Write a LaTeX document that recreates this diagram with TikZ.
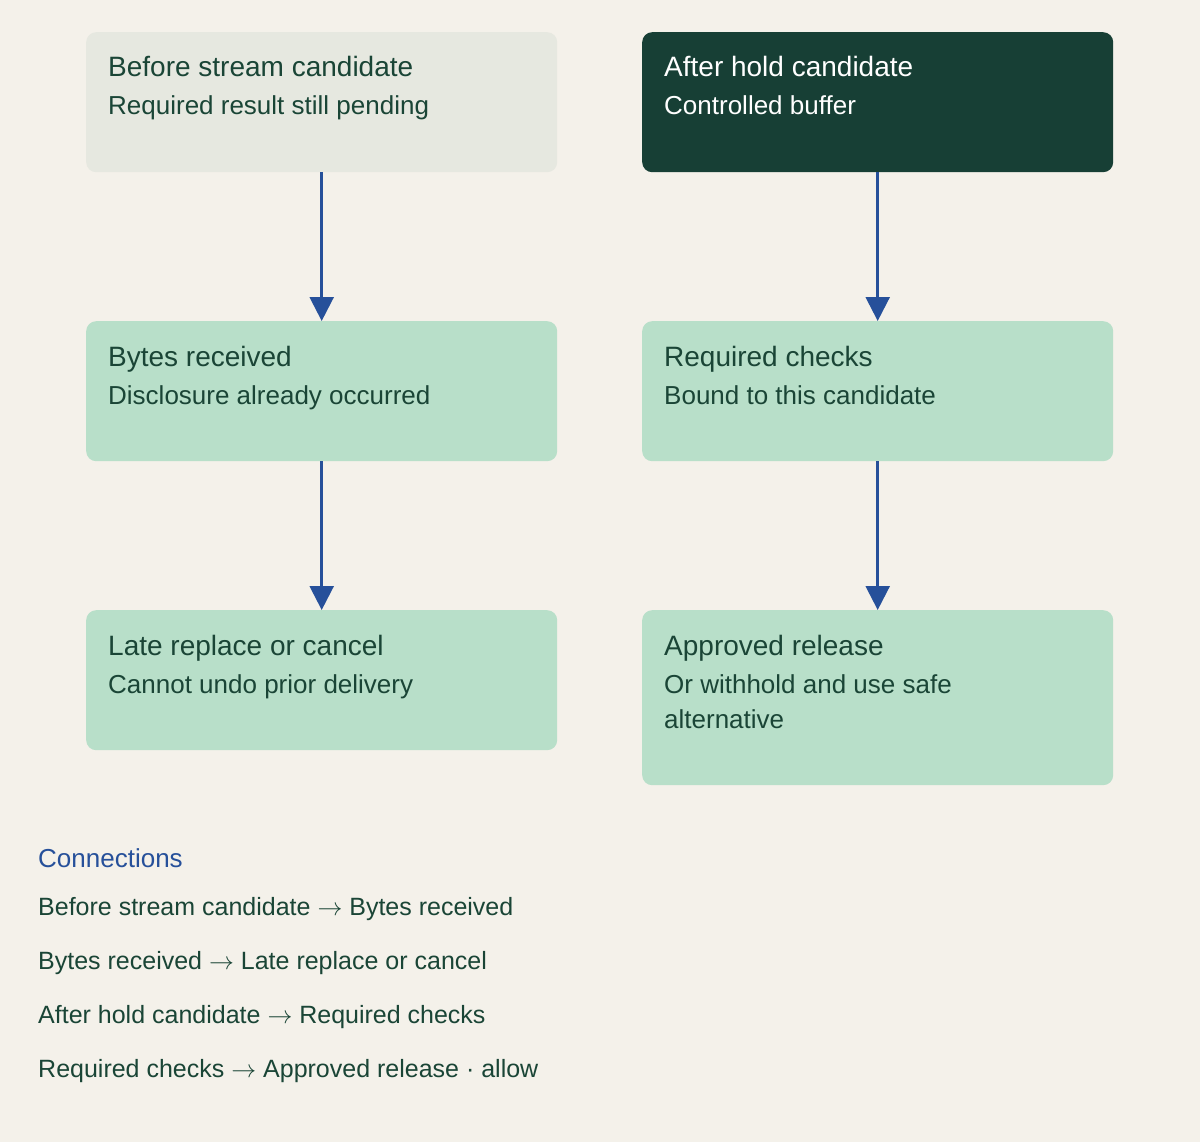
\documentclass[tikz,border=0pt]{standalone}
\usepackage{fontspec}
\setmainfont{Liberation Sans}
\usetikzlibrary{arrows.meta}
\definecolor{bgcol}{HTML}{F4F1EA}
\definecolor{palebox}{HTML}{E6E8E0}
\definecolor{darkbox}{HTML}{173F35}
\definecolor{greenbox}{HTML}{B8DFC9}
\definecolor{ink}{HTML}{1A4536}
\definecolor{flowblue}{HTML}{26509A}
\newcommand{\ar}{$\rightarrow$}
\tikzset{>/.tip={Triangle[width=24pt,length=24pt]},
  card/.style={rectangle, rounded corners=10pt, minimum width=471pt, minimum height=140pt, inner sep=0pt, anchor=north west},
  head/.style={anchor=base west, inner sep=0pt, text=ink, font=\fontsize{28}{33}\selectfont},
  sub/.style={anchor=base west, inner sep=0pt, text=ink, align=left, font=\fontsize{26}{35}\selectfont},
  flow/.style={->, draw=flowblue, fill=flowblue, line width=2.5pt},
  legend/.style={anchor=base west, inner sep=0pt, text=ink, font=\fontsize{25}{30}\selectfont}}

\begin{document}
\begin{tikzpicture}[x=1pt, y=-1pt]
\useasboundingbox[fill=bgcol] (0,0) rectangle (1200,1142);
% left column
\node[card, fill=palebox] (before) at (86,32) {};
\node[card, fill=greenbox] (bytes) at (86,321) {};
\node[card, fill=greenbox] (late) at (86,610) {};
% right column
\node[card, fill=darkbox] (hold) at (642,32) {};
\node[card, fill=greenbox] (checks) at (642,321) {};
\node[card, fill=greenbox, minimum height=175pt] (release) at (642,610) {};
% texts
\node[head] at ([shift={(22,45)}]before.north west) {Before stream candidate};
\node[sub] at ([shift={(22,83)}]before.north west) {Required result still pending};
\node[head] at ([shift={(22,45)}]bytes.north west) {Bytes received};
\node[sub] at ([shift={(22,83)}]bytes.north west) {Disclosure already occurred};
\node[head] at ([shift={(22,45)}]late.north west) {Late replace or cancel};
\node[sub] at ([shift={(22,83)}]late.north west) {Cannot undo prior delivery};
\node[head, text=white] at ([shift={(22,45)}]hold.north west) {After hold candidate};
\node[sub, text=white] at ([shift={(22,83)}]hold.north west) {Controlled buffer};
\node[head] at ([shift={(22,45)}]checks.north west) {Required checks};
\node[sub] at ([shift={(22,83)}]checks.north west) {Bound to this candidate};
\node[head] at ([shift={(22,45)}]release.north west) {Approved release};
\node[sub] at ([shift={(22,118)}]release.north west) {Or withhold and use safe\\alternative};
% connectors
\draw[flow] (before) -- (bytes);
\draw[flow] (bytes) -- (late);
\draw[flow] (hold) -- (checks);
\draw[flow] (checks) -- (release);
% connections list
\node[legend, text=flowblue, font=\fontsize{26}{30}\selectfont] (conn) at (38,867) {Connections};
\node[legend] (c1) at (38,915) {Before stream candidate \ar{} Bytes received};
\node[legend] (c2) at (38,969) {Bytes received \ar{} Late replace or cancel};
\node[legend] (c3) at (38,1023) {After hold candidate \ar{} Required checks};
\node[legend] (c4) at (38,1077) {Required checks \ar{} Approved release · allow};
\end{tikzpicture}
\end{document}
